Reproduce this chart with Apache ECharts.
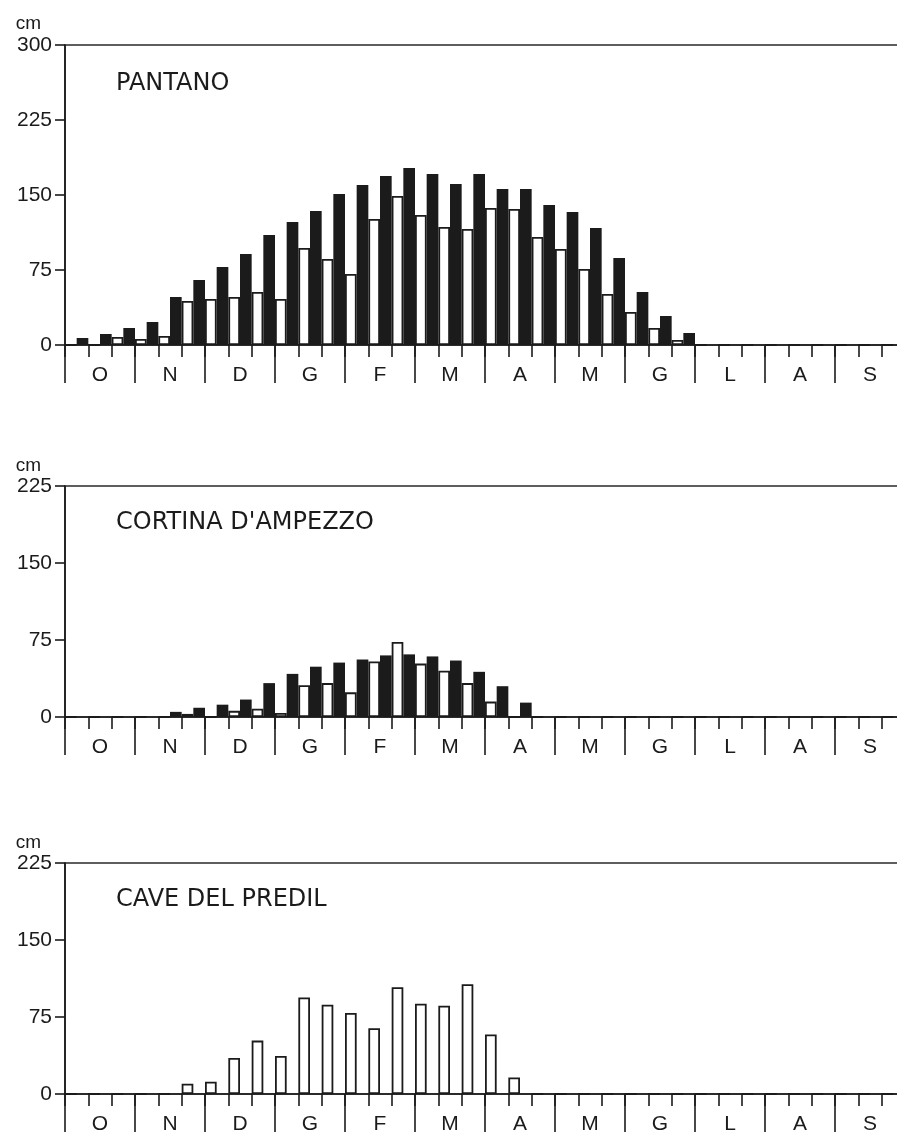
<!DOCTYPE html>
<html>
<head>
<meta charset="utf-8">
<script src="https://cdn.jsdelivr.net/npm/echarts@6/dist/echarts.min.js"></script>
<style>
  html, body { margin: 0; padding: 0; background: #ffffff; }
  #chart { width: 897px; height: 1136px; }
</style>
</head>
<body>
<div id="chart"></div>
<script>
// Month labels (Oct -> Sep) and their three decades (10-day periods)
const months = ['O', 'N', 'D', 'G', 'F', 'M', 'A', 'M', 'G', 'L', 'A', 'S'];
const decades = months.flatMap((m, i) => [m + (i + 1) + '-1', m + (i + 1) + '-2', m + (i + 1) + '-3']);

// Station titles
const stations = ['PANTANO', "CORTINA D'AMPEZZO", 'CAVE DEL PREDIL'];

// Y axis ranges (cm)
const yMax = [300, 225, 225];
const yStep = 75;

// Values per decade, O1..S3 (cm). "open" = white bar, "filled" = black bar
const pantanoOpen   = [0, 0, 8,   6, 9, 44,   46, 48, 53,   46, 97, 86,   71, 126, 149,   130, 118, 116,   137, 136, 108,   96, 76, 51,   33, 17, 5,   0, 0, 0,   0, 0, 0,   0, 0, 0];
const pantanoFilled = [7, 11, 17, 23, 48, 65, 78, 91, 110, 123, 134, 151, 160, 169, 177, 171, 161, 171, 156, 156, 140, 133, 117, 87, 53, 29, 12, 0, 0, 0, 0, 0, 0, 0, 0, 0];

const cortinaOpen   = [0, 0, 0,   0, 0, 3,   0, 6, 8,    4, 31, 33,   24, 54, 73,   52, 45, 33,   15, 0, 0,   0, 0, 0,   0, 0, 0,   0, 0, 0,   0, 0, 0,   0, 0, 0];
const cortinaFilled = [0, 0, 0,   0, 5, 9,   12, 17, 33, 42, 49, 53,   56, 60, 61,   59, 55, 44,   30, 14, 0,  0, 0, 0,   0, 0, 0,   0, 0, 0,   0, 0, 0,   0, 0, 0];

const predilOpen    = [0, 0, 0,   0, 0, 10,  12, 35, 52,  37, 94, 87,   79, 64, 104,  88, 86, 107,  58, 16, 0,  0, 0, 0,   0, 0, 0,   0, 0, 0,   0, 0, 0,   0, 0, 0];
const predilFilled  = [0, 0, 0,   0, 0, 0,   0, 0, 0,    0, 0, 0,     0, 0, 0,      0, 0, 0,      0, 0, 0,   0, 0, 0,   0, 0, 0,   0, 0, 0,   0, 0, 0,   0, 0, 0];

const openSeries = [pantanoOpen, cortinaOpen, predilOpen];
const filledSeries = [pantanoFilled, cortinaFilled, predilFilled];

// ---- layout / style ----
const INK = '#1b1b1b';
const gridTops = [45, 486, 863];
const gridHeights = [300, 231, 231];
const titleTops = [72, 511, 888];
const nameGaps = [12, 11, 8];

const chart = echarts.init(document.getElementById('chart'), null, { renderer: 'canvas' });

const grids = [], xAxes = [], yAxes = [], series = [], titles = [];
for (let i = 0; i < 3; i++) {
  grids.push({
    left: 65, right: -8, top: gridTops[i], height: gridHeights[i],
    containLabel: false, outerBoundsMode: 'none',
    show: true, borderColor: '#2a2a2a', borderWidth: 1.6, backgroundColor: 'transparent'
  });
  // decade axis (short ticks), carries the bars
  xAxes.push({
    gridIndex: i, type: 'category', data: decades, position: 'bottom',
    axisLine: { show: true, onZero: false, lineStyle: { color: INK, width: 1.6 } },
    axisTick: { show: true, interval: 0, length: 12, lineStyle: { color: INK, width: 1.6 } },
    axisLabel: { show: false },
    splitLine: { show: false }
  });
  // month axis (long ticks + labels)
  xAxes.push({
    gridIndex: i, type: 'category', data: months, position: 'bottom',
    axisLine: { show: false, onZero: false },
    axisTick: { show: true, interval: 0, length: 38, lineStyle: { color: INK, width: 1.6 } },
    axisLabel: { show: true, interval: 0, margin: 20, fontSize: 21, color: INK, fontFamily: 'Liberation Sans' },
    splitLine: { show: false }
  });
  yAxes.push({
    gridIndex: i, type: 'value', min: 0, max: yMax[i], interval: yStep,
    name: 'cm', nameLocation: 'end', nameGap: nameGaps[i],
    nameTextStyle: { fontSize: 19, color: INK, fontFamily: 'Liberation Sans', align: 'right', verticalAlign: 'bottom', padding: [0, 24, 0, 0] },
    axisLine: { show: true, lineStyle: { color: INK, width: 1.6 } },
    axisTick: { show: true, length: 10, lineStyle: { color: INK, width: 1.6 } },
    axisLabel: { margin: 13, fontSize: 21, color: INK, fontFamily: 'Liberation Sans' },
    splitLine: { show: false }
  });
  series.push({
    type: 'bar', xAxisIndex: i * 2, yAxisIndex: i, data: openSeries[i],
    barGap: '0%', barCategoryGap: '0%',
    itemStyle: { color: '#ffffff', borderColor: INK, borderWidth: 1.8 },
    emphasis: { disabled: true }, animation: false
  });
  series.push({
    type: 'bar', xAxisIndex: i * 2, yAxisIndex: i, data: filledSeries[i],
    barGap: '0%', barCategoryGap: '0%',
    itemStyle: { color: INK },
    emphasis: { disabled: true }, animation: false
  });
  titles.push({
    text: stations[i], left: 116, top: titleTops[i], padding: 0,
    textStyle: { fontFamily: 'DejaVu Sans', fontSize: 24, fontWeight: 'normal', color: INK, lineHeight: 24 }
  });
}

chart.setOption({
  backgroundColor: '#ffffff',
  animation: false,
  title: titles,
  grid: grids,
  xAxis: xAxes,
  yAxis: yAxes,
  series: series
});
</script>
</body>
</html>
